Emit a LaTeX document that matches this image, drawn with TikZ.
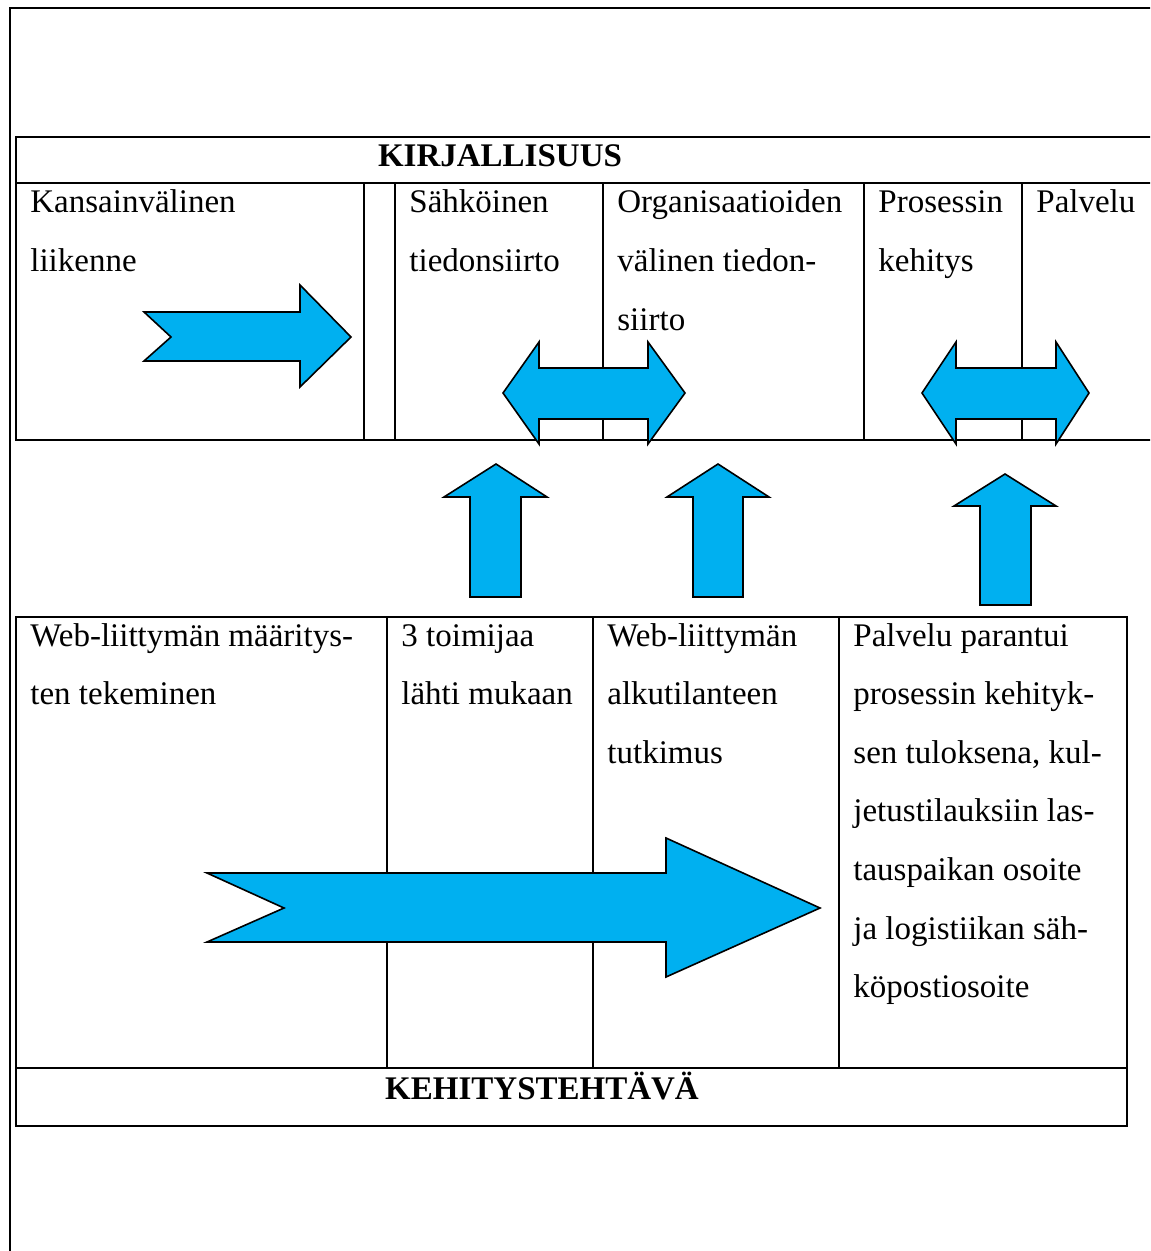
\documentclass[tikz,border=0pt]{standalone}
\usepackage{fontspec}
\setmainfont{Liberation Serif}
\definecolor{arrowblue}{HTML}{00B0F0}
\tikzset{
  blockarrow/.style={fill=arrowblue, draw=black, line width=0.8pt, line join=miter},
  frameline/.style={draw=black, line width=0.9pt},
  gridline/.style={draw=black, line width=1pt},
  celltext/.style={anchor=base west, inner sep=0pt, font=\fontsize{16.5}{29.3}\selectfont},
  headtext/.style={anchor=base, inner sep=0pt, font=\fontsize{16.5}{29.3}\selectfont\bfseries},
}
% several lines of a cell, the first line's baseline being the node's baseline
\newcommand\cellrows[1]{\begin{tabular}[t]{@{}l@{}}#1\end{tabular}}
\begin{document}
\begin{tikzpicture}[x=0.5pt,y=-0.5pt]
\useasboundingbox (0,0) rectangle (1150,1251);
\clip (0,0) rectangle (1150,1251);

% page frame
\draw[frameline] (10,1270) -- (10,8) -- (1170,8);

% upper table: literature
\draw[gridline] (1170,137) -- (16,137) -- (16,440) -- (1170,440);
\draw[gridline] (16,183) -- (1170,183);
\foreach \x in {364,395,603,864,1022} \draw[gridline] (\x,183) -- (\x,440);

\node[headtext] (kirj) at (500,167) {KIRJALLISUUS};
\node[celltext] (kl) at (30,213) {\cellrows{Kansainvälinen\\liikenne}};
\node[celltext] (st) at (409,213) {\cellrows{Sähköinen\\tiedonsiirto}};
\node[celltext] (ov) at (617,213) {\cellrows{Organisaatioiden\\välinen tiedon-\\siirto}};
\node[celltext] (pk) at (878,213) {\cellrows{Prosessin\\kehitys}};
\node[celltext] (pa) at (1036,213) {Palvelu};

% lower table: development task
\draw[gridline] (16,617) rectangle (1127,1126);
\draw[gridline] (16,1068) -- (1127,1068);
\foreach \x in {387,593,839} \draw[gridline] (\x,617) -- (\x,1068);

\node[celltext] (wm) at (30,646) {\cellrows{Web-liittymän määritys-\\ten tekeminen}};
\node[celltext] (tm) at (401,646) {\cellrows{3 toimijaa\\lähti mukaan}};
\node[celltext] (wa) at (607,646) {\cellrows{Web-liittymän\\alkutilanteen\\tutkimus}};
\node[celltext] (pp) at (853,646) {\cellrows{Palvelu parantui\\prosessin kehityk-\\sen tuloksena, kul-\\jetustilauksiin las-\\tauspaikan osoite\\ja logistiikan säh-\\köpostiosoite}};
\node[headtext] (keh) at (542,1099) {KEHITYSTEHTÄVÄ};

% block arrows
\path[blockarrow] (144,312) -- (171,337) -- (144,361) -- (300,361) -- (300,387)
  -- (351,337) -- (300,285) -- (300,312) -- cycle;
\path[blockarrow] (503,393) -- (539,342) -- (539,368) -- (648,368) -- (648,342)
  -- (685,393) -- (648,444) -- (648,419) -- (539,419) -- (539,444) -- cycle;
\path[blockarrow] (922,393) -- (956,342) -- (956,368) -- (1056,368) -- (1056,342)
  -- (1089,393) -- (1056,444) -- (1056,419) -- (956,419) -- (956,444) -- cycle;
\path[blockarrow] (496,464) -- (547,497) -- (521,497) -- (521,597) -- (470,597)
  -- (470,497) -- (444,497) -- cycle;
\path[blockarrow] (718,464) -- (769,497) -- (743,497) -- (743,597) -- (693,597)
  -- (693,497) -- (667,497) -- cycle;
\path[blockarrow] (1005,474) -- (1056,506) -- (1031,506) -- (1031,605) -- (980,605)
  -- (980,506) -- (954,506) -- cycle;
\path[blockarrow] (207,873) -- (284,908) -- (207,942) -- (666,942) -- (666,977)
  -- (820,908) -- (666,838) -- (666,873) -- cycle;
\end{tikzpicture}
\end{document}
